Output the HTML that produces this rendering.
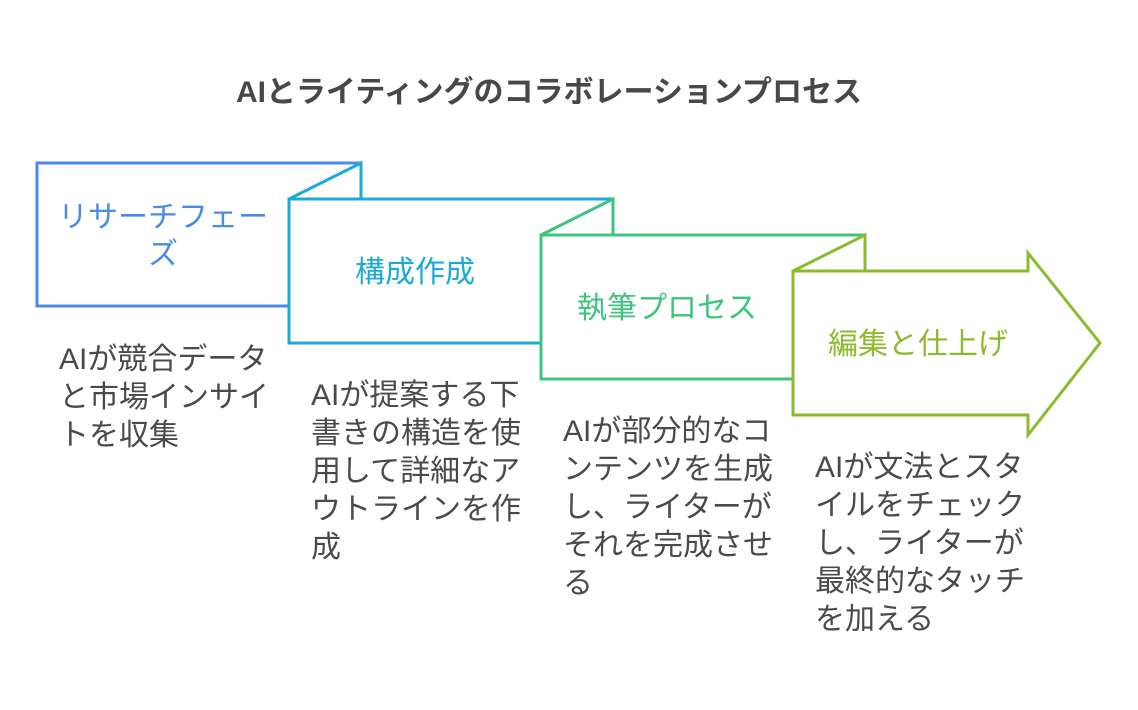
<!DOCTYPE html>
<html><head><meta charset="utf-8"><style>
body{margin:0;background:#fff}
svg text{font-family:"Liberation Sans","Noto Sans CJK JP",sans-serif}
</style></head><body>
<svg width="1138" height="705" viewBox="0 0 1138 705" xmlns="http://www.w3.org/2000/svg">
<rect width="1138" height="705" fill="#fff"/>
<text x="549" y="102" text-anchor="middle" font-size="30" font-weight="bold" fill="#484848">AIとライティングのコラボレーションプロセス</text>
<g stroke-width="3" fill="#fff" stroke-linejoin="miter">
<rect x="37" y="163" width="324" height="143" stroke="#4a8be8"/>
<path d="M289 199 L361 163 L361 199 Z M289 199 H613 V343 H289 Z" stroke="#1caad9"/>
<path d="M541 235 L613 199 L613 235 Z M541 235 H865 V379 H541 Z" stroke="#3dc47e"/>
<path d="M793 271 L865 235 L865 271 Z M793 271 H1028 V253 L1100 343 L1028 435 V415 H793 Z" stroke="#8cbb2f"/>
</g>
<g font-size="30">
<text x="163" y="227" text-anchor="middle" fill="#4a8be8">リサーチフェー</text>
<text x="163" y="264" text-anchor="middle" fill="#4a8be8">ズ</text>
<text x="415" y="282" text-anchor="middle" fill="#1caad9">構成作成</text>
<text x="667" y="318" text-anchor="middle" fill="#3dc47e">執筆プロセス</text>
<text x="918" y="354" text-anchor="middle" fill="#8cbb2f">編集と仕上げ</text>
</g>
<g font-size="30" fill="#4a4a4a">
<text x="59" y="369">AIが競合データ</text>
<text x="59" y="407">と市場インサイ</text>
<text x="59" y="445">トを収集</text>
<text x="311" y="405">AIが提案する下</text>
<text x="311" y="443">書きの構造を使</text>
<text x="311" y="481">用して詳細なア</text>
<text x="311" y="519">ウトラインを作</text>
<text x="311" y="557">成</text>
<text x="563" y="441">AIが部分的なコ</text>
<text x="563" y="479">ンテンツを生成</text>
<text x="563" y="517">し、ライターが</text>
<text x="563" y="555">それを完成させ</text>
<text x="563" y="593">る</text>
<text x="815" y="477">AIが文法とスタ</text>
<text x="815" y="515">イルをチェック</text>
<text x="815" y="553">し、ライターが</text>
<text x="815" y="591">最終的なタッチ</text>
<text x="815" y="629">を加える</text>
</g>
</svg>
</body></html>
